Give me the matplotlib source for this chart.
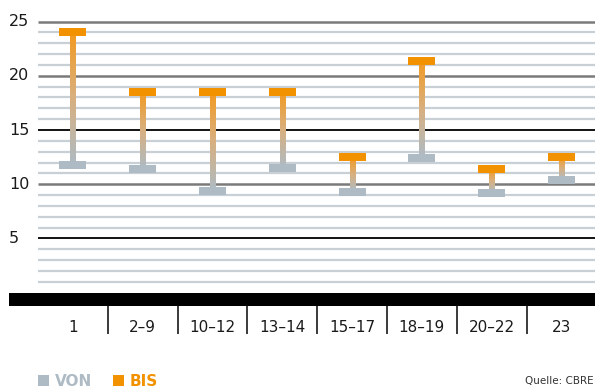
import numpy as np
import matplotlib
matplotlib.use("Agg")
import matplotlib.pyplot as plt
from matplotlib.colors import LinearSegmentedColormap
from matplotlib.transforms import blended_transform_factory

plt.rcParams['font.family'] = ['DejaVu Sans']

# Data
categories = ["1", "2–9", "10–12", "13–14", "15–17", "18–19", "20–22", "23"]
von = [11.8, 11.4, 9.4, 11.5, 9.3, 12.4, 9.2, 10.4]
bis = [24.0, 18.5, 18.5, 18.5, 12.5, 21.4, 11.4, 12.5]
y_ticks = [5, 10, 15, 20, 25]

ORANGE = "#F39200"
GRAY = "#AEBBC4"

W, H = 595, 387
fig = plt.figure(figsize=(W / 100, H / 100), dpi=100)
ax_left, ax_right = 9, 595
ax_top, ax_bottom = 18.3, 305.7
ax = fig.add_axes([ax_left / W, (H - ax_bottom) / H,
                   (ax_right - ax_left) / W, (ax_bottom - ax_top) / H])

x = np.arange(len(categories))
x_lo, x_hi = -0.917, 7.48

# horizontal grid
minor_levels = [v for v in range(1, 25) if v % 5 != 0]
ax.hlines(minor_levels, -0.5, x_hi + 1, colors="#C8D0D6", lw=1.6, zorder=1)
ax.hlines([10, 20, 25], -0.5, x_hi + 1, colors="#7A7A7A", lw=1.8, zorder=1)
ax.hlines([5, 15], -0.5, x_hi + 1, colors="#000000", lw=1.3, zorder=1)

# black base band
ax.axhspan(-1.2, 0, color="black", lw=0, zorder=2)

# gradient stems from VON up to BIS
cmap = LinearSegmentedColormap.from_list("vonbis", [GRAY, "#D8B080", "#F39A20"])
grad = np.linspace(0, 1, 256).reshape(-1, 1)
stem_w = 0.075
for xi, lo, hi in zip(x, von, bis):
    ax.imshow(grad, cmap=cmap, aspect="auto", origin="lower",
              extent=(xi - stem_w / 2, xi + stem_w / 2, lo, hi),
              interpolation="bilinear", zorder=3)

# caps
cap_w, cap_h = 0.387, 0.74
ax.bar(x, cap_h, bottom=np.array(von) - cap_h / 2, width=cap_w,
       color=GRAY, lw=0, zorder=4)
ax.bar(x, cap_h, bottom=np.array(bis) - cap_h / 2, width=cap_w,
       color=ORANGE, lw=0, zorder=4)

ax.set_xlim(x_lo, x_hi)
ax.set_ylim(-1.2, 25.3)

for s in ax.spines.values():
    s.set_visible(False)

# category labels and separators
ax.set_xticks(x)
ax.set_xticklabels(categories, fontsize=11, color="#1A1A1A")
ax.tick_params(axis="x", which="major", length=0, pad=10)
ax.set_xticks(x[:-1] + 0.5, minor=True)
ax.tick_params(axis="x", which="minor", length=20, width=1.4,
               color="#3A3A3A", direction="out")
ax.set_yticks([])

# y labels, left aligned
trans = blended_transform_factory(ax.transAxes, ax.transData)
for v in y_ticks:
    ax.text(0.0, v, str(v), transform=trans, ha="left", va="center",
            fontsize=11.5, color="#1A1A1A")

# legend
fy = 1 - 381 / H
fig.patches.append(plt.Rectangle((38 / W, 1 - 386 / H), 11 / W, 11 / H,
                                 transform=fig.transFigure, color=GRAY, lw=0))
fig.text(55 / W, fy, "VON", fontsize=11, color=GRAY, fontweight="bold",
         va="center", ha="left")
fig.patches.append(plt.Rectangle((113 / W, 1 - 386 / H), 11 / W, 11 / H,
                                 transform=fig.transFigure, color=ORANGE, lw=0))
fig.text(130 / W, fy, "BIS", fontsize=11, color=ORANGE, fontweight="bold",
         va="center", ha="left")

fig.text(594 / W, fy, "Quelle: CBRE", fontsize=7.5, color="#333333",
         va="center", ha="right")

fig.savefig("out.png", dpi=100)
